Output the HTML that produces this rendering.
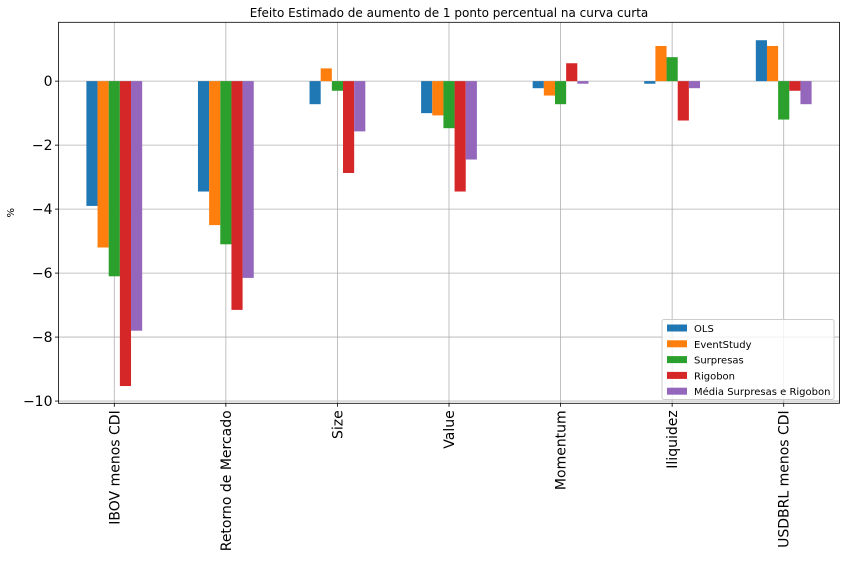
<!DOCTYPE html>
<html><head><meta charset="utf-8"><style>
body{margin:0;background:#fff;}
svg text{font-family:"DejaVu Sans","Liberation Sans",sans-serif;}
</style></head><body>
<svg id="chart" width="846" height="558" xmlns="http://www.w3.org/2000/svg"></svg>
<script>
const categories=["IBOV menos CDI","Retorno de Mercado","Size","Value","Momentum","Iliquidez","USDBRL menos CDI"];
const seriesNames=["OLS","EventStudy","Surpresas","Rigobon","Média Surpresas e Rigobon"];
const ols=[-3.9,-3.45,-0.72,-1.0,-0.22,-0.08,1.28];
const eventStudy=[-5.2,-4.5,0.4,-1.07,-0.45,1.1,1.1];
const surpresas=[-6.1,-5.1,-0.3,-1.47,-0.72,0.75,-1.2];
const rigobon=[-9.53,-7.15,-2.87,-3.45,0.56,-1.23,-0.3];
const media=[-7.8,-6.15,-1.57,-2.45,-0.08,-0.22,-0.72];
const yTicks=[0,-2,-4,-6,-8,-10];
const colors=["#1f77b4","#ff7f0e","#2ca02c","#d62728","#9467bd"];
const allSeries=[ols,eventStudy,surpresas,rigobon,media];
const L=58.5,R=839.5,T=22.3,B=403.3;
const yMax=1.84,yMin=-10.07;
const y=v=>T+(yMax-v)/(yMax-yMin)*(B-T);
const step=(R-L)/categories.length;
const xc=i=>L+step*(i+0.5);
const bw=step*0.5/5;
const svg=document.getElementById('chart');
const NS="http://www.w3.org/2000/svg";
function mk(tag,attrs,parent){const e=document.createElementNS(NS,tag);for(const k in attrs)e.setAttribute(k,attrs[k]);(parent||svg).appendChild(e);return e;}
let t=mk('text',{x:(L+R)/2,y:17,'text-anchor':'middle','font-size':12});t.textContent="Efeito Estimado de aumento de 1 ponto percentual na curva curta";


// grid
yTicks.forEach(v=>{
 const g=mk('line',{x1:L,x2:R,y1:y(v),y2:y(v),stroke:'#b0b0b0','stroke-width':0.8});
 
 
 mk('line',{x1:L-3.5,x2:L,y1:y(v),y2:y(v),stroke:'#000','stroke-width':0.8});
 const tx=mk('text',{x:L-6,y:y(v)+5,'text-anchor':'end','font-size':14});
 tx.textContent=(v<0?"\u2212":"")+Math.abs(v);
 
 
});
categories.forEach((c,i)=>{
 const g=mk('line',{x1:xc(i),x2:xc(i),y1:T,y2:B,stroke:'#b0b0b0','stroke-width':0.8});
 
 
 mk('line',{x1:xc(i),x2:xc(i),y1:B,y2:B+3.5,stroke:'#000','stroke-width':0.8});
 const tx=mk('text',{x:0,y:0,'text-anchor':'end','font-size':14,transform:`translate(${xc(i)+5},${B+7}) rotate(-90)`});
 tx.textContent=c;
 
 
});
allSeries.forEach((s,j)=>{
 s.forEach((v,i)=>{
  const x0=xc(i)+(j-2.5)*bw;
  const r=mk('rect',{x:x0,y:Math.min(y(0),y(v)),width:bw,height:Math.abs(y(v)-y(0)),fill:colors[j]});
  
  
 });
});
mk('rect',{x:L,y:T,width:R-L,height:B-T,fill:'none',stroke:'#000','stroke-width':0.8});
const yl=mk('text',{x:0,y:0,'text-anchor':'middle','font-size':10,transform:`translate(14,${(T+B)/2}) rotate(-90)`});
yl.textContent="%";


// legend
const lg=mk('g',{});


mk('rect',{x:662,y:319.5,width:172,height:80,rx:2,fill:'#fff','fill-opacity':0.8,stroke:'#ccc'},lg);
seriesNames.forEach((n,j)=>{
 const e=mk('g',{},lg);
 
 
 mk('rect',{x:667,y:324.5+j*15.8,width:20,height:7,fill:colors[j]},e);
 const tx=mk('text',{x:694,y:332+j*15.8,'font-size':10},e);tx.textContent=n;
});
</script>
</body></html>
